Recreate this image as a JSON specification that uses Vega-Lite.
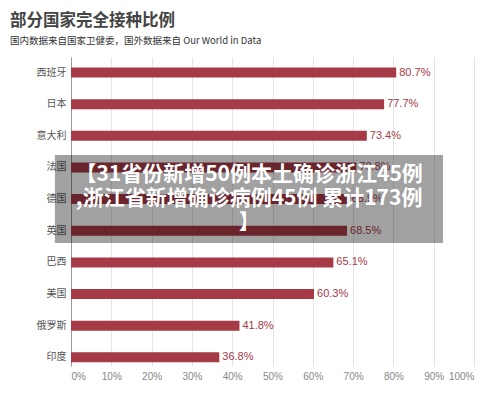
{
  "$schema": "https://vega.github.io/schema/vega-lite/v6.json",
  "autosize": "none",
  "width": 403,
  "height": 309,
  "padding": {"left": 71, "top": 57, "right": 26, "bottom": 33},
  "background": "white",
  "title": {
    "text": "部分国家完全接种比例",
    "subtitle": "国内数据来自国家卫健委，国外数据来自 Our World in Data",
    "anchor": "start",
    "frame": "group",
    "dx": -61,
    "offset": 12,
    "font": "Noto Sans CJK SC",
    "fontSize": 16.5,
    "fontWeight": "bold",
    "color": "#444444",
    "subtitleFont": "Noto Sans CJK SC",
    "subtitleFontSize": 9.5,
    "subtitleColor": "#333333",
    "subtitlePadding": 6
  },
  "config": {
    "view": {"stroke": null},
    "font": "Noto Sans CJK SC"
  },
  "data": {
    "values": [
      {"country": "西班牙", "rate": 0.807},
      {"country": "日本", "rate": 0.777},
      {"country": "意大利", "rate": 0.734},
      {"country": "法国", "rate": 0.708},
      {"country": "德国", "rate": 0.689},
      {"country": "英国", "rate": 0.685},
      {"country": "巴西", "rate": 0.651},
      {"country": "美国", "rate": 0.603},
      {"country": "俄罗斯", "rate": 0.418},
      {"country": "印度", "rate": 0.368}
    ]
  },
  "encoding": {
    "y": {
      "field": "country",
      "type": "nominal",
      "sort": null,
      "title": null,
      "scale": {"paddingInner": 0.684, "paddingOuter": 0.225, "align": 0.74},
      "axis": {
        "domain": true,
        "domainColor": "#999999",
        "ticks": false,
        "labelPadding": 5,
        "labelFontSize": 10,
        "labelColor": "#555555",
        "labelFont": "Noto Sans CJK SC",
        "grid": false
      }
    }
  },
  "layer": [
    {
      "mark": {"type": "bar", "color": "#a63a47"},
      "encoding": {
        "x": {
          "field": "rate",
          "type": "quantitative",
          "title": null,
          "scale": {"domain": [0, 1]},
          "axis": {
            "format": ".0%",
            "values": [0, 0.1, 0.2, 0.3, 0.4, 0.5, 0.6, 0.7, 0.8, 0.9, 1],
            "domain": false,
            "ticks": false,
            "grid": true,
            "gridColor": "#e4e4e4",
            "labelPadding": 5,
            "labelFontSize": 10,
            "labelColor": "#888888",
            "labelFont": "Liberation Sans"
          }
        }
      }
    },
    {
      "mark": {"type": "text", "align": "left", "baseline": "middle", "dx": 3, "fontSize": 11, "font": "Liberation Sans", "color": "#a63a47"},
      "encoding": {
        "x": {"field": "rate", "type": "quantitative"},
        "text": {"field": "rate", "type": "quantitative", "format": ".1%"}
      }
    },
    {
      "data": {"values": [{"caption": "【31省份新增50例本土确诊浙江45例\n,浙江省新增确诊病例45例 累计173例\n】"}]},
      "mark": {"type": "bar", "color": "#000000", "opacity": 0.37, "height": {"band": 8.8}},
      "encoding": {
        "y": {"datum": "德国"},
        "x": {"datum": -0.04},
        "x2": {"datum": 0.923}
      }
    },
    {
      "data": {"values": [{"caption": "【31省份新增50例本土确诊浙江45例\n,浙江省新增确诊病例45例 累计173例\n】"}]},
      "mark": {"type": "text", "align": "center", "baseline": "middle", "lineBreak": "\n", "lineHeight": 24, "dy": -24, "fontSize": 21, "fontWeight": "bold", "font": "Noto Sans CJK SC", "color": "#ffffff"},
      "encoding": {
        "y": {"datum": "德国"},
        "x": {"datum": 0.442},
        "text": {"field": "caption", "type": "nominal"}
      }
    }
  ]
}
